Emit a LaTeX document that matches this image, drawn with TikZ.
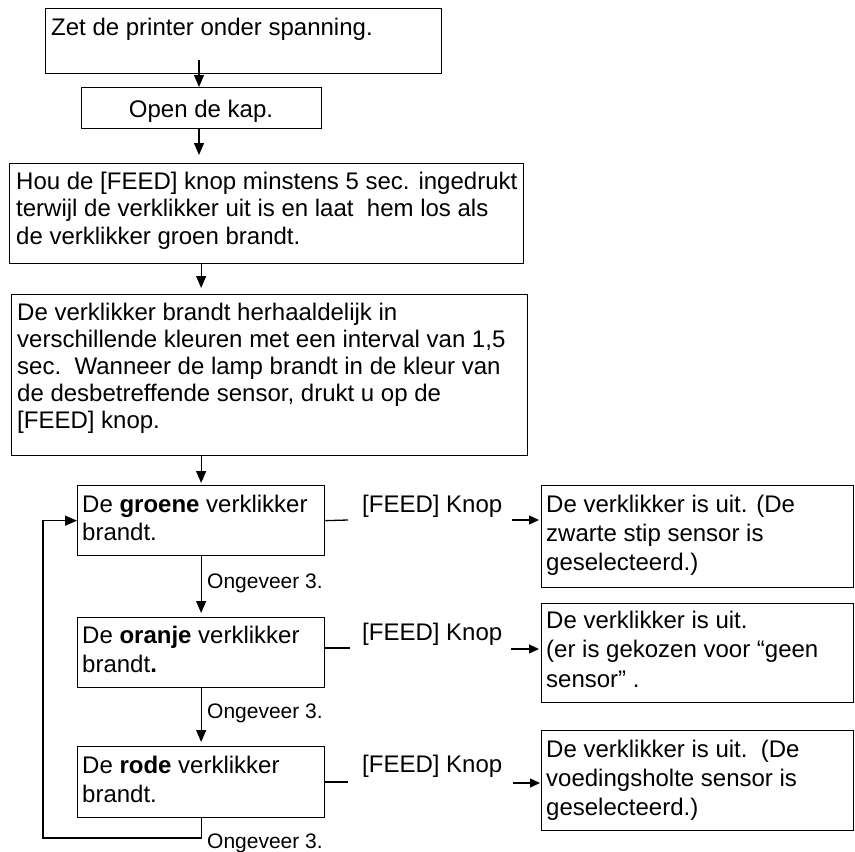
\documentclass[tikz,border=0pt]{standalone}
\usepackage{fontspec}
\setmainfont{Liberation Sans}
\usetikzlibrary{arrows.meta,calc}
\tikzset{
  bx/.style={draw, line width=1.3pt, inner sep=0pt, anchor=north west},
  txt/.style={inner sep=0pt, anchor=base west, font=\fontsize{24}{27.6}\selectfont},
  small/.style={inner sep=0pt, anchor=base west, font=\fontsize{21}{24}\selectfont},
  ln/.style={line width=1.3pt},
  arr/.style={line width=1.3pt, -{Triangle[length=12pt,width=10pt]}},
  harr/.style={line width=1.3pt, -{Triangle[length=10pt,width=9pt]}}
}
\newcommand{\lines}[2]{\fontsize{24}{#1}\selectfont\begin{tabular}[t]{@{}l@{}}#2\end{tabular}}
\begin{document}
\begin{tikzpicture}[x=1pt,y=-1pt]
\useasboundingbox (0,0) rectangle (855,852);
% boxes
\node[bx, minimum width=396pt, minimum height=65pt] (b1) at (45,8) {};
\node[bx, minimum width=240pt, minimum height=41pt, line width=1pt] (b2) at (81,87) {};
\node[bx, minimum width=514pt, minimum height=100pt] (b3) at (9,163) {};
\node[bx, minimum width=516pt, minimum height=161pt] (b4) at (11,294) {};
\node[bx, minimum width=247pt, minimum height=70pt] (b5) at (77,485) {};
\node[bx, minimum width=247pt, minimum height=70pt] (b6) at (77,617) {};
\node[bx, minimum width=247pt, minimum height=71pt] (b7) at (77,746) {};
\node[bx, minimum width=312pt, minimum height=102pt] (b8) at (541,485) {};
\node[bx, minimum width=312pt, minimum height=99pt] (b9) at (541,603) {};
\node[bx, minimum width=312pt, minimum height=100pt] (b10) at (541,730) {};
% texts
\node[txt] (t1) at (51,35) {Zet de printer onder spanning.};
\node[txt, anchor=base] (t2) at (201,117) {Open de kap.};
\node[txt] (t3) at (16,189) {\lines{27.6}{Hou de [FEED] knop minstens 5 sec. ingedrukt\\terwijl de verklikker uit is en laat\ \ hem los als\\de verklikker groen brandt.}};
\node[txt] (t4) at (17,320) {\lines{27}{De verklikker brandt herhaaldelijk in\\verschillende kleuren met een interval van 1,5\\sec.\ \ Wanneer de lamp brandt in de kleur van\\de desbetreffende sensor, drukt u op de\\{[FEED]} knop.}};
\node[txt] (t5) at (82,512) {\lines{28.5}{De \textbf{groene} verklikker\\brandt.}};
\node[txt] (t6) at (82,643) {\lines{29}{De \textbf{oranje} verklikker\\brandt\textbf{.}}};
\node[txt] (t7) at (82,773) {\lines{29}{De \textbf{rode} verklikker\\brandt.}};
\node[txt] (t8) at (546,512) {\lines{29}{De verklikker is uit. (De\\zwarte stip sensor is\\geselecteerd.)}};
\node[txt] (t9) at (546,628) {\lines{29.5}{De verklikker is uit.\\(er is gekozen voor “geen\\sensor” .}};
\node[txt] (t10) at (546,757) {\lines{29}{De verklikker is uit.\ \ (De\\voedingsholte sensor is\\geselecteerd.)}};
\node[txt] (f1) at (362,512) {[FEED] Knop};
\node[txt] (f2) at (362,640) {[FEED] Knop};
\node[txt] (f3) at (362,772) {[FEED] Knop};
\node[small] (o1) at (207,588) {Ongeveer 3.};
\node[small] (o2) at (207,718) {Ongeveer 3.};
\node[small] (o3) at (207,848) {Ongeveer 3.};
% vertical arrows
\coordinate (a1) at (199,60);
\draw[arr] (a1) -- (a1 |- b2.north);
\draw[arr, shorten >=8pt] (b2.south -| a1) -- (b3.north -| a1);
\draw[arr, shorten >=6pt] (b3.south -| b5.north) -- (b4.north -| b5.north);
\draw[arr, shorten >=2pt] (b4.south -| b5.north) -- (b5.north);
\draw[arr, shorten >=4pt] (b5.south) -- (b6.north);
\draw[arr, shorten >=4pt] (b6.south) -- (b7.north);
% loop back
\coordinate (l1) at (43,838);
\draw[arr] (b7.south) |- (l1) |- (b5.west);
% horizontal lines and arrows
\coordinate (h1) at (348,520);
\coordinate (h2) at (350,648);
\coordinate (h3) at (348,782);
\draw[ln] (b5.east) -- (h1);
\draw[ln] (b6.east |- h2) -- (h2);
\draw[ln] (b7.east |- h3) -- (h3);
\coordinate (g1) at (512,520);
\coordinate (g2) at (511,649);
\coordinate (g3) at (513,783);
\draw[harr, shorten >=2pt] (g1) -- (g1 -| b8.west);
\draw[harr, shorten >=2pt] (g2) -- (g2 -| b9.west);
\draw[harr, shorten >=1pt] (g3) -- (g3 -| b10.west);
\end{tikzpicture}
\end{document}
